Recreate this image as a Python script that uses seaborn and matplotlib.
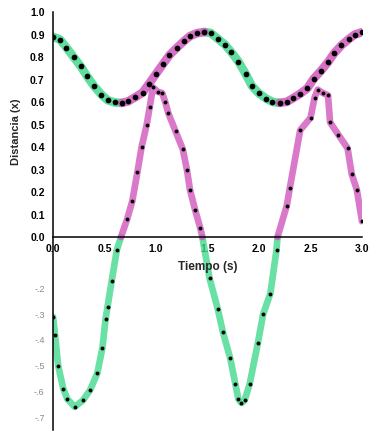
import numpy as np
import pandas as pd
import matplotlib
matplotlib.use("Agg")
import matplotlib.pyplot as plt
import matplotlib.transforms as mtransforms
import seaborn as sns

# Posición del carro (m) muestreada a 15 Hz
t_dist = [0.00, 0.07, 0.13, 0.20, 0.27, 0.33, 0.40, 0.47, 0.53, 0.60,
          0.67, 0.73, 0.80, 0.87, 0.93, 1.00, 1.07, 1.13, 1.20, 1.27,
          1.33, 1.40, 1.47, 1.53, 1.60, 1.67, 1.73, 1.80, 1.87, 1.93,
          2.00, 2.07, 2.13, 2.20, 2.27, 2.33, 2.40, 2.47, 2.53, 2.60,
          2.67, 2.73, 2.80, 2.87, 2.93, 3.00]
distancia = [0.890, 0.877, 0.842, 0.800, 0.758, 0.715, 0.670, 0.633, 0.608, 0.598,
             0.596, 0.603, 0.622, 0.642, 0.680, 0.725, 0.770, 0.808, 0.840, 0.870,
             0.893, 0.906, 0.911, 0.907, 0.881, 0.855, 0.822, 0.780, 0.725, 0.672,
             0.638, 0.615, 0.601, 0.596, 0.601, 0.617, 0.637, 0.661, 0.703, 0.738,
             0.777, 0.817, 0.852, 0.879, 0.900, 0.910]

# Velocidad (m/s)
t_vel = [0.00, 0.02, 0.05, 0.10, 0.14, 0.21, 0.29, 0.36, 0.43, 0.48,
         0.51, 0.53, 0.57, 0.62, 0.66, 0.72, 0.77, 0.82, 0.86, 0.91,
         0.94, 0.97, 1.02, 1.06, 1.09, 1.12, 1.19, 1.26, 1.30, 1.33,
         1.38, 1.43, 1.45, 1.52, 1.60, 1.65, 1.72, 1.77, 1.80, 1.83,
         1.86, 1.91, 1.99, 2.04, 2.11, 2.17, 2.18, 2.27, 2.30, 2.40,
         2.50, 2.54, 2.57, 2.62, 2.67, 2.69, 2.77, 2.86, 2.90, 2.95, 3.00]
velocidad = [-0.31, -0.38, -0.50, -0.59, -0.63, -0.66, -0.635, -0.595, -0.53, -0.43,
             -0.32, -0.27, -0.17, -0.05, 0.00, 0.08, 0.16, 0.29, 0.40, 0.50,
             0.58, 0.665, 0.645, 0.64, 0.60, 0.55, 0.47, 0.39, 0.30, 0.21,
             0.12, 0.04, 0.00, -0.16, -0.28, -0.37, -0.47, -0.57, -0.63, -0.645,
             -0.635, -0.57, -0.41, -0.30, -0.22, -0.05, 0.00, 0.14, 0.22, 0.475,
             0.53, 0.62, 0.655, 0.64, 0.63, 0.51, 0.455, 0.395, 0.28, 0.21, 0.07]

x_ticks = [0.0, 0.5, 1.0, 1.5, 2.0, 2.5, 3.0]
x_labels = ["0.0", "0.5", "1.0", "1.5", "2.0", "2.5", "3.0"]
y_ticks = [-0.7, -0.6, -0.5, -0.4, -0.3, -0.2, -0.1, 0.0, 0.1, 0.2, 0.3,
           0.4, 0.5, 0.6, 0.7, 0.8, 0.9, 1.0]
y_labels = ["-.7", "-.6", "-.5", "-.4", "-.3", "-.2", "", "0.0", "0.1", "0.2",
            "0.3", "0.4", "0.5", "0.6", "0.7", "0.8", "0.9", "1.0"]

VERDE = "#43d98e"
ROSA = "#d158bd"
K_NEG = 1.143  # la parte negativa del eje está algo más estirada


def tramos(t, y, sube):
    """Parte la curva en tramos consecutivos del mismo color."""
    filas, seg, previo = [], 0, None
    for i in range(len(t) - 1):
        c = "sube" if sube[i] else "baja"
        if c != previo:
            seg += 1
            previo = c
            filas.append((seg, c, t[i], y[i]))
        filas.append((seg, c, t[i + 1], y[i + 1]))
    return pd.DataFrame(filas, columns=["seg", "fase", "t", "y"])


def fwd(y):
    y = np.asarray(y, dtype=float)
    return np.where(y < 0, y * K_NEG, y)


def inv(y):
    y = np.asarray(y, dtype=float)
    return np.where(y < 0, y / K_NEG, y)


sns.set_theme(style="white")
plt.rcParams["font.family"] = ["Liberation Sans", "DejaVu Sans"]

fig = plt.figure(figsize=(3.70, 4.34), dpi=100)
ax = fig.add_axes([53 / 370, 4 / 434, 309 / 370, 418 / 434])
ax.set_yscale("function", functions=(fwd, inv))

pal = {"sube": ROSA, "baja": VERDE}

d_arr = np.array(distancia)
df_d = tramos(t_dist, distancia, np.diff(d_arr) > 0)
v_arr = np.array(velocidad)
df_v = tramos(t_vel, velocidad, (v_arr[:-1] + v_arr[1:]) > 0)

sns.lineplot(data=df_v, x="t", y="y", hue="fase", units="seg", estimator=None,
             sort=False, palette=pal, linewidth=4.8, alpha=0.8, legend=False,
             solid_capstyle="round", solid_joinstyle="round", ax=ax)
sns.lineplot(data=df_d, x="t", y="y", hue="fase", units="seg", estimator=None,
             sort=False, palette=pal, linewidth=6.2, alpha=0.85, legend=False,
             solid_capstyle="round", solid_joinstyle="round", ax=ax)

mask = v_arr != 0
sns.scatterplot(x=np.array(t_vel)[mask], y=v_arr[mask], color="black", s=8,
                linewidth=0, ax=ax, zorder=5)
sns.scatterplot(x=t_dist, y=distancia, color="black", s=17, linewidth=0,
                ax=ax, zorder=6)

ax.set_xlim(0, 3.0)
ax.set_ylim(-0.75, 1.0)

for lado in ("top", "right"):
    ax.spines[lado].set_visible(False)
ax.spines["bottom"].set_position(("data", 0))
for lado in ("left", "bottom"):
    ax.spines[lado].set_color("black")
    ax.spines[lado].set_linewidth(1.1)
ax.grid(False)

ax.set_xticks(x_ticks, labels=x_labels)
ax.set_xticks(np.round(np.arange(0, 3.01, 0.1), 2), minor=True)
ax.set_yticks(y_ticks, labels=y_labels)
ax.set_yticks(np.round(np.arange(-0.75, 1.001, 0.05), 2), minor=True)

ax.tick_params(axis="x", which="major", direction="inout", length=6, width=1,
               pad=2, labelsize=7.5, colors="black")
ax.tick_params(axis="x", which="minor", direction="inout", length=4, width=0.8,
               colors="black")
ax.tick_params(axis="y", which="major", direction="out", length=4, width=1,
               pad=2, labelsize=7.5, colors="black")
ax.tick_params(axis="y", which="minor", direction="out", length=2.5, width=0.8,
               colors="black")
for lab in ax.get_xticklabels():
    lab.set_fontweight("bold")
for val, lab in zip(y_ticks, ax.get_yticklabels()):
    if val < 0:
        lab.set_color("#8a8a8a")
        lab.set_fontsize(6.5)
    else:
        lab.set_fontweight("bold")

ax.set_xlabel("")
ax.set_ylabel("")

trans_x = mtransforms.blended_transform_factory(ax.transAxes, ax.transData)
ax.annotate("Tiempo (s)", xy=(0.5, 0), xycoords=trans_x, xytext=(0, -30),
            textcoords="offset pixels", ha="center", va="center",
            fontsize=8.5, fontweight="bold")
ax.annotate("Distancia (x)", xy=(0, 0.47), xycoords=trans_x, xytext=(-37, 0),
            textcoords="offset pixels", ha="center", va="center",
            rotation=90, fontsize=8, fontweight="bold")

fig.savefig("out.png", dpi=100)
